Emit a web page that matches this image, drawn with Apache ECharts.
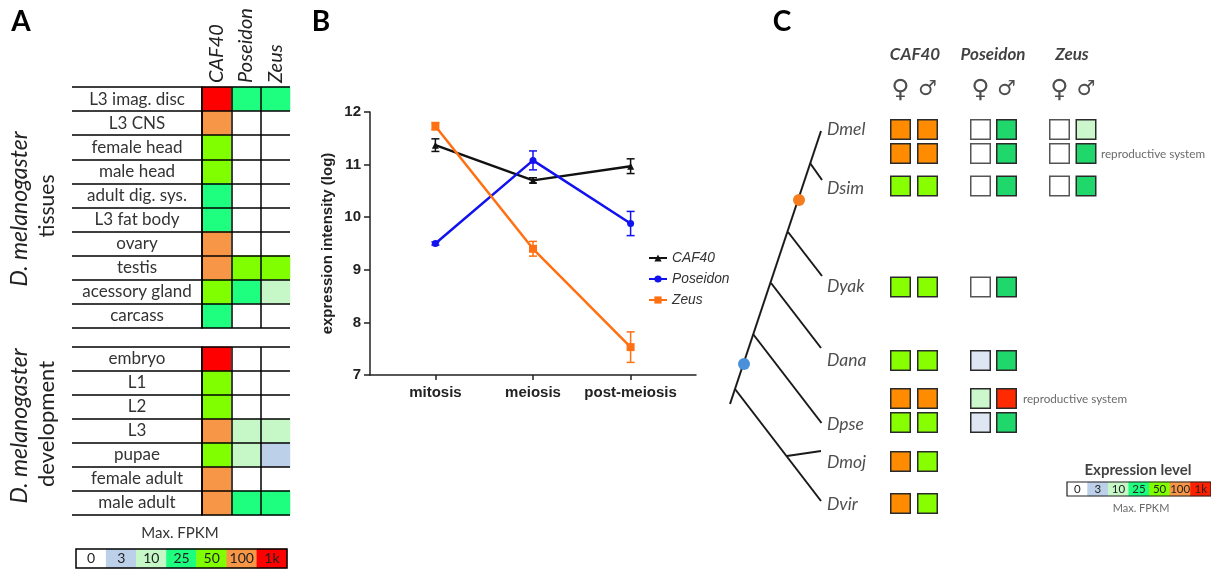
<!DOCTYPE html>
<html><head><meta charset="utf-8">
<style>html,body{margin:0;padding:0;background:#fff}#c{width:1211px;height:569px}</style>
<script src="https://cdn.jsdelivr.net/npm/echarts@6/dist/echarts.min.js"></script>
</head><body><div id="c"></div>
<script>
const levelLabels = ['0','3','10','25','50','100','1k'];
const paletteA = ['#ffffff','#bdd0e9','#c6f7c6','#1eff80','#80ff00','#f79646','#ff0000'];
const paletteC = ['#ffffff','#dde6f2','#ccf7cc','#1fd76a','#88ff00','#ff8c00','#ff2a00'];
const legendC = ['#ffffff','#bdd0e9','#c6f7c6','#1eff80','#80ff00','#f79646','#ff2000'];

const genes = ['CAF40','Poseidon','Zeus'];
const tissues = ['L3 imag. disc','L3 CNS','female head','male head','adult dig. sys.','L3 fat body','ovary','testis','acessory gland','carcass'];
const tissueCAF40    = [6,5,4,4,3,3,5,5,4,3];
const tissuePoseidon = [3,0,0,0,0,0,0,4,3,0];
const tissueZeus     = [3,0,0,0,0,0,0,4,2,0];
const stages = ['embryo','L1','L2','L3','pupae','female adult','male adult'];
const stageCAF40    = [6,4,4,5,4,5,5];
const stagePoseidon = [0,0,0,2,2,0,3];
const stageZeus     = [0,0,0,2,1,0,3];

const phases = ['mitosis','meiosis','post-meiosis'];
const caf40Expr = [11.37,10.70,10.97];
const caf40Err  = [0.12,0.05,0.14];
const poseidonExpr = [9.50,11.08,9.88];
const poseidonErr  = [0.03,0.18,0.23];
const zeusExpr = [11.73,9.40,7.53];
const zeusErr  = [0.07,0.14,0.29];

const speciesNames = ['Dmel','Dsim','Dyak','Dana','Dpse','Dmoj','Dvir'];
const speciesRowY  = [129,188,286,360,424,462,504];
const matrixRowY = [129.5,153.5,186,287,360.5,398.5,422.5,461.5,503.5];
const matrixColX = [900.5,927.5,980.5,1006.5,1059.5,1086];
const matrixRows = [
  [5,5,0,3,0,2],
  [5,5,0,3,0,3],
  [4,4,0,3,0,3],
  [4,4,0,3],
  [4,4,1,3],
  [5,5,2,6],
  [4,4,1,3],
  [5,4],
  [5,4]
];
const treeBranches = [
  [[821,131],[730,404]],
  [[810,163],[822,180]],
  [[788,232],[822,276]],
  [[771,283],[821,348]],
  [[753,334],[821.5,423]],
  [[735,389],[821,501]],
  [[787,456],[821,451]]
];
const treeMarkers = [[799,200,'#f57d1e'],[744,364,'#4a90d9']];

const sans = 'Lato';
const arial = '"Liberation Sans"';

const heatData = (cols, palette) => cols.flatMap((col, x) => col.map((lv, y) => ({
  value:[x,y,lv], itemStyle:{color:palette[lv]}
})));

function tableAxes(gi, rows, showHead) {
  return {
    x:{type:'category',gridIndex:gi,data:genes,position:'top',z:5,
       axisLine:{show:false},axisTick:{show:false},
       axisLabel:showHead?{show:true,rotate:-90,margin:4,fontFamily:sans,fontStyle:'italic',fontSize:20,color:'#222'}:{show:true,formatter:()=>''},
       splitLine:{show:true,showMaxLine:false,lineStyle:{color:'#000',width:1.5}}},
    y:{type:'category',gridIndex:gi,data:rows,inverse:true,z:5,
       axisLine:{show:true,lineStyle:{color:'#000',width:1.5}},
       axisTick:{show:true,length:130,lineStyle:{color:'#000',width:1.5}},
       axisLabel:{margin:65,align:'center',fontFamily:sans,fontSize:17,color:'#333'},
       splitLine:{show:true,lineStyle:{color:'#000',width:1.5}}}
  };
}
const tA = tableAxes(0,tissues,true), dA = tableAxes(1,stages,false);

function scaleAxes(gi) {
  return {
    x:{type:'category',gridIndex:gi,data:levelLabels,axisLine:{show:false},axisTick:{show:false},axisLabel:{show:false},splitLine:{show:false}},
    y:{type:'category',gridIndex:gi,data:['Max. FPKM'],axisLine:{show:false},axisTick:{show:false},axisLabel:{show:false},splitLine:{show:false}}
  };
}
const sA = scaleAxes(2), sC = scaleAxes(5);

const lineAxisX = {type:'value',gridIndex:3,min:-0.67,max:2.67,
  axisLine:{show:true,onZero:false,lineStyle:{color:'#222',width:1.5}},
  axisTick:{show:true,customValues:[0,1,2],length:5,lineStyle:{color:'#222',width:1.5}},
  axisLabel:{customValues:[0,1,2],formatter:v=>phases[v],margin:10,fontFamily:arial,fontWeight:'bold',fontSize:15,color:'#222'},
  splitLine:{show:false}};
const lineAxisY = {type:'value',gridIndex:3,min:7,max:12,interval:1,
  name:'expression intensity (log)',nameLocation:'middle',nameRotate:90,nameGap:35,
  nameTextStyle:{fontFamily:arial,fontWeight:'bold',fontSize:15,color:'#222'},
  axisLine:{show:true,onZero:false,lineStyle:{color:'#222',width:1.5}},
  axisTick:{show:true,length:6,lineStyle:{color:'#222',width:1.5}},
  axisLabel:{margin:9,fontFamily:arial,fontWeight:'bold',fontSize:15,color:'#222'},
  splitLine:{show:false}};

const panelX = {type:'value',gridIndex:4,min:720,max:1211,show:false};
const panelY = {type:'value',gridIndex:4,min:0,max:569,inverse:true,show:false};

function lineSeries(name,vals,color,symbol,size){
  return {type:'line',name,xAxisIndex:3,yAxisIndex:3,data:vals.map((v,i)=>[i,v]),
    symbol,symbolSize:size,lineStyle:{color,width:2.5},itemStyle:{color},z:4};
}
function errSeries(name,vals,errs,color){
  return {type:'custom',name,xAxisIndex:3,yAxisIndex:3,z:3,
    data:vals.map((v,i)=>[i,v-errs[i],v+errs[i]]),encode:{x:0,y:[1,2]},
    renderItem(p,api){
      const lo=api.coord([api.value(0),api.value(1)]),hi=api.coord([api.value(0),api.value(2)]);
      const st={stroke:color,lineWidth:1.5,fill:'none'};
      return {type:'group',children:[
        {type:'line',shape:{x1:lo[0],y1:lo[1],x2:hi[0],y2:hi[1]},style:st},
        {type:'line',shape:{x1:lo[0]-4,y1:lo[1],x2:lo[0]+4,y2:lo[1]},style:st},
        {type:'line',shape:{x1:hi[0]-4,y1:hi[1],x2:hi[0]+4,y2:hi[1]},style:st}
      ]};
    }};
}
function textSeries(items,label){
  return {type:'scatter',xAxisIndex:4,yAxisIndex:4,symbolSize:0,silent:true,z:6,
    data:items.map(t=>({value:[t[0],t[1]],name:t[2]})),
    label:Object.assign({show:true,position:'inside',formatter:'{b}',align:'center',verticalAlign:'middle'},label)};
}

const cellData = matrixRows.flatMap((row,r)=>row.map((lv,c)=>({
  value:[matrixColX[c],matrixRowY[r]],
  itemStyle:{color:paletteC[lv],opacity:1,borderColor:lv===0?'#555':'#2a2a2a',borderWidth:1.5}
})));

const headC = [[915,55,'CAF40'],[993,55,'Poseidon'],[1072,55,'Zeus']];
const femaleC = matrixColX.filter((x,i)=>i%2===0).map(x=>[x,90,'♀']);
const maleC = matrixColX.filter((x,i)=>i%2===1).map(x=>[x,90,'♂']);

const option = {
  animation:false,backgroundColor:'#fff',
  grid:[
    {left:202,top:87,width:88,height:241},
    {left:202,top:347,width:88,height:168},
    {left:76,top:549,width:211,height:19,show:true,z:6,borderColor:'#000',borderWidth:1.5,backgroundColor:'transparent'},
    {left:370,top:112,width:326,height:263},
    {left:720,top:0,width:491,height:569},
    {left:1067,top:482,width:149,height:14,show:true,z:6,borderColor:'#222',borderWidth:1.2,backgroundColor:'transparent'}
  ],
  xAxis:[tA.x,dA.x,sA.x,lineAxisX,panelX,sC.x],
  yAxis:[tA.y,dA.y,sA.y,lineAxisY,panelY,sC.y],
  legend:{left:643,top:246,orient:'vertical',itemWidth:18,itemHeight:9,itemGap:7,
    data:['CAF40','Poseidon','Zeus'],
    textStyle:{fontFamily:arial,fontStyle:'italic',fontSize:13.8,color:'#333'}},
  series:[
    {type:'heatmap',xAxisIndex:0,yAxisIndex:0,data:heatData([tissueCAF40,tissuePoseidon,tissueZeus],paletteA)},
    {type:'heatmap',xAxisIndex:1,yAxisIndex:1,data:heatData([stageCAF40,stagePoseidon,stageZeus],paletteA)},
    {type:'heatmap',xAxisIndex:2,yAxisIndex:2,
      data:levelLabels.map((l,i)=>({value:[i,0,i],itemStyle:{color:paletteA[i]}})),
      label:{show:true,formatter:p=>levelLabels[p.value[0]],fontFamily:sans,fontSize:14,color:'#222'}},
    {type:'heatmap',xAxisIndex:5,yAxisIndex:5,
      data:levelLabels.map((l,i)=>({value:[i,0,i],itemStyle:{color:legendC[i]}})),
      label:{show:true,formatter:p=>levelLabels[p.value[0]],fontFamily:sans,fontSize:11.5,color:'#222'}},
    errSeries('err1',caf40Expr,caf40Err,'#111'),
    errSeries('err2',poseidonExpr,poseidonErr,'#1212ee'),
    errSeries('err3',zeusExpr,zeusErr,'#ff7012'),
    lineSeries('CAF40',caf40Expr,'#111','triangle',7),
    lineSeries('Poseidon',poseidonExpr,'#1212ee','circle',7),
    lineSeries('Zeus',zeusExpr,'#ff7012','rect',8),
    {type:'lines',coordinateSystem:'cartesian2d',xAxisIndex:4,yAxisIndex:4,polyline:false,
      lineStyle:{color:'#1a1a1a',width:2,opacity:1},
      data:treeBranches.map(b=>({coords:b}))},
    {type:'scatter',xAxisIndex:4,yAxisIndex:4,symbol:'circle',symbolSize:12,z:5,
      data:treeMarkers.map(m=>({value:[m[0],m[1]],itemStyle:{color:m[2],opacity:1}}))},
    {type:'scatter',xAxisIndex:4,yAxisIndex:4,symbol:'rect',symbolSize:19.5,z:3,data:cellData},
    textSeries(speciesNames.map((n,i)=>[827,speciesRowY[i],n]),{align:'left',fontFamily:sans,fontStyle:'italic',fontSize:17.5,color:'#222'}),
    textSeries(headC,{fontFamily:sans,fontStyle:'italic',fontWeight:'bold',fontSize:17,color:'#111'}),
    textSeries(femaleC,{fontFamily:'"DejaVu Sans"',fontSize:25,color:'#222'}),
    textSeries(maleC,{fontFamily:'"DejaVu Sans"',fontSize:21,color:'#222'}),
    textSeries([[1153,154,'reproductive system'],[1075,399,'reproductive system']],{fontFamily:sans,fontSize:11.7,color:'#444'}),
    textSeries([[1138,470,'Expression level']],{fontFamily:sans,fontWeight:'bold',fontSize:15,color:'#111'}),
    textSeries([[1141,508,'Max. FPKM']],{fontFamily:sans,fontSize:11,color:'#444'})
  ],
  graphic:[
    {type:'rect',left:236,top:0,shape:{width:20,height:7},style:{fill:'#fff'},z:50},
    ...[
      {t:'A',x:21,y:22,s:{fontSize:28,fontWeight:'bold'}},
      {t:'B',x:321,y:22,s:{fontSize:28,fontWeight:'bold'}},
      {t:'C',x:782,y:22,s:{fontSize:28,fontWeight:'bold'}},
      {t:'Max. FPKM',x:180,y:533,s:{fontSize:15,fill:'#333'}},
      {t:'D. melanogaster',x:20,y:209,r:1,s:{fontSize:23,fontStyle:'italic',fill:'#222'}},
      {t:'tissues',x:47,y:206,r:1,s:{fontSize:21,fill:'#222'}},
      {t:'D. melanogaster',x:20,y:426,r:1,s:{fontSize:23,fontStyle:'italic',fill:'#222'}},
      {t:'development',x:47,y:424,r:1,s:{fontSize:22,fill:'#222'}}
    ].map(o=>({type:'text',x:o.x,y:o.y,rotation:o.r?Math.PI/2:0,z:40,
      style:Object.assign({text:o.t,fontFamily:sans,textAlign:'center',textVerticalAlign:'middle',fill:'#000'},o.s)}))
  ]
};
echarts.init(document.getElementById('c'),null,{renderer:'canvas'}).setOption(option);
</script></body></html>
